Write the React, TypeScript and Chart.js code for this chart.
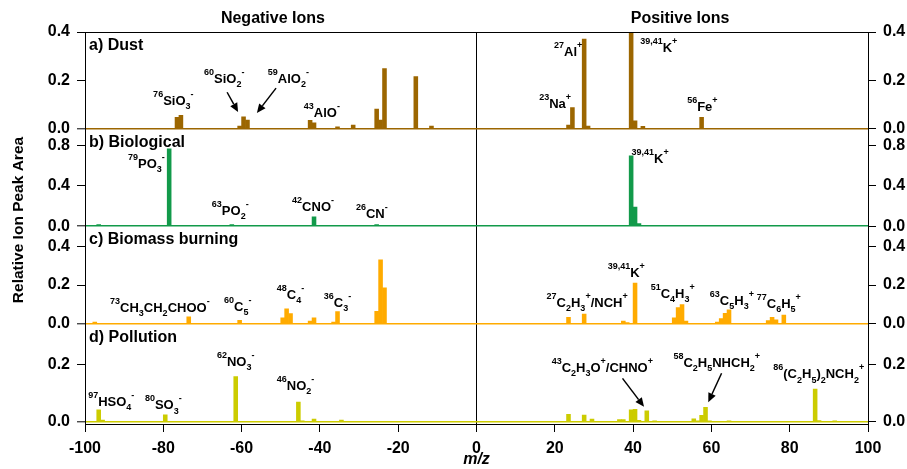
import React, { useEffect, useRef } from "react";
import { Chart, registerables } from "chart.js";
Chart.register(...registerables);

const FONT = '"Liberation Sans", Arial, Helvetica, sans-serif';

const xTicks = [-100, -80, -60, -40, -20, 0, 20, 40, 60, 80, 100];

// a) Dust  (each bar covers [m, m+1] as in the original Igor plot)
const dustMz = [-77, -76, -61, -60, -59, -43, -42, -36, -32, -26, -25, -24, -16, -12, 23, 24, 27, 28, 39, 40, 42, 57];
const dustVal = [0.047, 0.056, 0.011, 0.049, 0.036, 0.035, 0.025, 0.008, 0.015, 0.081, 0.036, 0.249, 0.216, 0.011, 0.015, 0.088, 0.371, 0.011, 0.4, 0.033, 0.01, 0.047];
const dustTicks = [0, 0.2, 0.4];

// b) Biological
const bioMz = [-97, -79, -63, -42, -26, 39, 40, 41];
const bioVal = [0.015, 0.767, 0.015, 0.092, 0.015, 0.698, 0.19, 0.026];
const bioTicks = [0, 0.4, 0.8];

// c) Biomass burning
const burnMz = [-98, -74, -61, -50, -49, -48, -43, -42, -37, -36, -26, -25, -24, 23, 27, 37, 38, 40, 50, 51, 52, 53, 61, 62, 63, 64, 74, 75, 76, 78];
const burnVal = [0.01, 0.036, 0.019, 0.031, 0.078, 0.053, 0.015, 0.031, 0.009, 0.063, 0.065, 0.33, 0.186, 0.034, 0.05, 0.015, 0.007, 0.21, 0.031, 0.084, 0.099, 0.014, 0.009, 0.027, 0.055, 0.072, 0.017, 0.034, 0.021, 0.045];
const burnTicks = [0, 0.2, 0.4];

// d) Pollution
const pollMz = [-97, -96, -80, -62, -46, -45, -42, -35, 23, 27, 29, 36, 37, 39, 40, 41, 43, 45, 55, 56, 57, 58, 59, 64, 86, 87, 91];
const pollVal = [0.041, 0.006, 0.024, 0.157, 0.068, 0.003, 0.009, 0.006, 0.026, 0.023, 0.009, 0.007, 0.007, 0.041, 0.043, 0.005, 0.038, 0.003, 0.01, 0.003, 0.022, 0.05, 0.003, 0.002, 0.114, 0.004, 0.002];
const pollTicks = [0, 0.2];

// peak labels (anchored in m/z, value coordinates of their panel)
const dustNotes = [
  { mz: -82.6, v: 0.098, t: "^{76}SiO_{3}^{-}" },
  { mz: -69.6, v: 0.189, t: "^{60}SiO_{2}^{-}" },
  { mz: -53.3, v: 0.189, t: "^{59}AlO_{2}^{-}" },
  { mz: -44.1, v: 0.048, t: "^{43}AlO^{-}" },
  { mz: 16.0, v: 0.086, t: "^{23}Na^{+}" },
  { mz: 19.8, v: 0.3, t: "^{27}Al^{+}" },
  { mz: 41.8, v: 0.317, t: "^{39,41}K^{+}" },
  { mz: 53.8, v: 0.073, t: "^{56}Fe^{+}" },
];
const dustArrows = [
  { x1: -63.7, y1: 0.151, x2: -60.9, y2: 0.069 },
  { x1: -51.2, y1: 0.168, x2: -56.1, y2: 0.065 },
];
const bioNotes = [
  { mz: -89.0, v: 0.579, t: "^{79}PO_{3}^{-}" },
  { mz: -67.6, v: 0.112, t: "^{63}PO_{2}^{-}" },
  { mz: -47.1, v: 0.152, t: "^{42}CNO^{-}" },
  { mz: -30.8, v: 0.082, t: "^{26}CN^{-}" },
  { mz: 39.6, v: 0.628, t: "^{39,41}K^{+}" },
];
const burnNotes = [
  { mz: -93.6, v: 0.062, t: "^{73}CH_{3}CH_{2}CHOO^{-}" },
  { mz: -64.5, v: 0.067, t: "^{60}C_{5}^{-}" },
  { mz: -51.0, v: 0.128, t: "^{48}C_{4}^{-}" },
  { mz: -39.0, v: 0.089, t: "^{36}C_{3}^{-}" },
  { mz: 17.9, v: 0.089, t: "^{27}C_{2}H_{3}^{+}/NCH^{+}" },
  { mz: 33.5, v: 0.243, t: "^{39,41}K^{+}" },
  { mz: 44.5, v: 0.132, t: "^{51}C_{4}H_{3}^{+}" },
  { mz: 59.6, v: 0.097, t: "^{63}C_{5}H_{3}^{+}" },
  { mz: 71.6, v: 0.084, t: "^{77}C_{6}H_{5}^{+}" },
];
const pollNotes = [
  { mz: -99.2, v: 0.055, t: "^{97}HSO_{4}^{-}" },
  { mz: -84.7, v: 0.043, t: "^{80}SO_{3}^{-}" },
  { mz: -66.3, v: 0.195, t: "^{62}NO_{3}^{-}" },
  { mz: -51.0, v: 0.11, t: "^{46}NO_{2}^{-}" },
  { mz: 19.2, v: 0.174, t: "^{43}C_{2}H_{3}O^{+}/CHNO^{+}" },
  { mz: 50.3, v: 0.192, t: "^{58}C_{2}H_{5}NHCH_{2}^{+}" },
  { mz: 75.8, v: 0.151, t: "^{86}(C_{2}H_{5})_{2}NCH_{2}^{+}" },
];
const pollArrows = [
  { x1: 37.3, y1: 0.151, x2: 42.8, y2: 0.052 },
  { x1: 62.6, y1: 0.169, x2: 59.2, y2: 0.068 },
];

const PANELS = [
  { id: "a", name: "a) Dust", color: "#9c6600", min: -0.003, max: 0.4, h: 97.5, mz: dustMz, val: dustVal, ticks: dustTicks, notes: dustNotes, arrows: dustArrows },
  { id: "b", name: "b) Biological", color: "#129a4a", min: -0.005, max: 0.96, h: 97.2, mz: bioMz, val: bioVal, ticks: bioTicks, notes: bioNotes, arrows: [] as any[] },
  { id: "c", name: "c) Biomass burning", color: "#ffab00", min: -0.004, max: 0.5, h: 98, mz: burnMz, val: burnVal, ticks: burnTicks, notes: burnNotes, arrows: [] as any[] },
  { id: "d", name: "d) Pollution", color: "#cccc00", min: -0.008, max: 0.338, h: 99.3, mz: pollMz, val: pollVal, ticks: pollTicks, notes: pollNotes, arrows: pollArrows },
];

function drawRich(ctx: CanvasRenderingContext2D, text: string, x: number, y: number, size: number) {
  const parts = text.split(/(\^\{[^}]*\}|_\{[^}]*\})/).filter((s) => s.length > 0);
  let cx = x;
  for (const part of parts) {
    let mode = "n";
    let t = part;
    if (part.startsWith("^{")) { mode = "sup"; t = part.slice(2, -1); }
    else if (part.startsWith("_{")) { mode = "sub"; t = part.slice(2, -1); }
    const fs = mode === "n" ? size : Math.round(size * 0.7);
    ctx.font = `bold ${fs}px ${FONT}`;
    const dy = mode === "sup" ? -size * 0.62 : mode === "sub" ? size * 0.32 : 0;
    ctx.fillText(t, cx, y + dy);
    cx += ctx.measureText(t).width;
  }
}

function drawArrow(ctx: CanvasRenderingContext2D, x1: number, y1: number, x2: number, y2: number) {
  const ang = Math.atan2(y2 - y1, x2 - x1);
  const L = 9, W = 4;
  const bx = x2 - L * Math.cos(ang), by = y2 - L * Math.sin(ang);
  ctx.strokeStyle = "#000";
  ctx.lineWidth = 1.5;
  ctx.beginPath();
  ctx.moveTo(x1, y1);
  ctx.lineTo(bx, by);
  ctx.stroke();
  ctx.fillStyle = "#000";
  ctx.beginPath();
  ctx.moveTo(x2, y2);
  ctx.lineTo(bx + W * Math.sin(ang), by - W * Math.cos(ang));
  ctx.lineTo(bx - W * Math.sin(ang), by + W * Math.cos(ang));
  ctx.closePath();
  ctx.fill();
}

const annotPlugin = {
  id: "annot",
  afterDraw(chart: any) {
    const ctx: CanvasRenderingContext2D = chart.ctx;
    const ca = chart.chartArea;
    const xs = chart.scales.x;
    ctx.save();
    ctx.strokeStyle = "#000";
    ctx.lineWidth = 1;
    ctx.beginPath();
    ctx.moveTo(ca.left, Math.round(ca.top) + 0.5);
    ctx.lineTo(ca.right, Math.round(ca.top) + 0.5);
    ctx.stroke();

    ctx.fillStyle = "#000";
    ctx.textBaseline = "alphabetic";
    ctx.textAlign = "center";
    ctx.font = `bold 16px ${FONT}`;
    ctx.fillText("Negative Ions", xs.getPixelForValue(-52), ca.top - 9);
    ctx.fillText("Positive Ions", xs.getPixelForValue(52), ca.top - 9);
    ctx.font = `italic bold 16px ${FONT}`;
    ctx.fillText("m/z", xs.getPixelForValue(0), 464);

    ctx.save();
    ctx.translate(23, (ca.top + ca.bottom) / 2 - 8);
    ctx.rotate(-Math.PI / 2);
    ctx.font = `bold 15.5px ${FONT}`;
    ctx.fillText("Relative Ion Peak Area", 0, 0);
    ctx.restore();

    ctx.textAlign = "left";
    for (const p of PANELS) {
      const ys = chart.scales["y" + p.id];
      ctx.fillStyle = "#000";
      ctx.font = `bold 16px ${FONT}`;
      ctx.fillText(p.name, ca.left + 4, ys.top + 17.5);
      for (const n of p.notes) {
        drawRich(ctx, n.t, xs.getPixelForValue(n.mz), ys.getPixelForValue(n.v), 13);
      }
      for (const a of p.arrows) {
        drawArrow(ctx, xs.getPixelForValue(a.x1), ys.getPixelForValue(a.y1), xs.getPixelForValue(a.x2), ys.getPixelForValue(a.y2));
      }
    }
    ctx.restore();
  },
};

export default function App() {
  const ref = useRef<HTMLCanvasElement>(null);
  useEffect(() => {
    const tickFont = { family: FONT, size: 16, weight: "bold" as const };
    const scales: any = {
      x: {
        type: "linear",
        position: "bottom",
        min: -100,
        max: 100,
        offset: false,
        afterBuildTicks: (s: any) => { s.ticks = xTicks.map((v) => ({ value: v })); },
        ticks: { font: tickFont, color: "#000", padding: 7, maxRotation: 0, autoSkip: false, callback: (v: any) => String(v) },
        grid: {
          offset: false,
          color: (c: any) => (c.tick && c.tick.value === 0 ? "#000" : "rgba(0,0,0,0)"),
          lineWidth: 1,
          tickColor: "#000",
          tickWidth: 1,
          tickLength: 8,
        },
        border: { color: "#000", width: 1 },
        afterFit: (s: any) => { s.height = 45; },
      },
    };
    PANELS.forEach((p, i) => {
      const common = {
        type: "linear",
        min: p.min,
        max: p.max,
        bounds: "data",
        stackWeight: p.h,
        afterBuildTicks: (s: any) => { s.ticks = p.ticks.map((v) => ({ value: v })); },
        ticks: { font: tickFont, color: "#000", padding: 7, autoSkip: false, callback: (v: any) => Number(v).toFixed(1) },
        border: { color: "#000", width: 1 },
      };
      scales["y" + p.id] = {
        ...common,
        position: "left",
        stack: "L",
        weight: 4 - i,
        grid: {
          color: (c: any) => (c.tick && c.tick.value === 0 ? p.color : "rgba(0,0,0,0)"),
          lineWidth: (c: any) => (c.tick && c.tick.value === 0 ? 1.6 : 1),
          tickColor: "#000",
          tickWidth: 1,
          tickLength: 8,
        },
        afterFit: (s: any) => { s.width = 85; },
      };
      scales["r" + p.id] = {
        ...common,
        position: "right",
        stack: "R",
        weight: i + 1,
        grid: { drawOnChartArea: false, color: "#000", tickColor: "#000", tickWidth: 1, tickLength: 8 },
        afterFit: (s: any) => { s.width = 39; },
      };
    });

    const chart = new Chart(ref.current as HTMLCanvasElement, {
      type: "bar",
      data: {
        datasets: PANELS.map((p) => ({
          type: "bar" as const,
          label: p.name,
          xAxisID: "x",
          yAxisID: "y" + p.id,
          data: p.mz.map((m, i) => ({ x: m + 0.5, y: p.val[i] })),
          backgroundColor: p.color,
          borderWidth: 0,
          grouped: false,
          barPercentage: 1,
          categoryPercentage: 1,
        })),
      } as any,
      options: {
        responsive: false,
        maintainAspectRatio: false,
        animation: false,
        layout: { padding: { top: 32, left: 0, right: 0, bottom: 0 } },
        plugins: { legend: { display: false }, tooltip: { enabled: false } },
        scales,
      } as any,
      plugins: [annotPlugin],
    });
    return () => chart.destroy();
  }, []);
  return (
    <div style={{ position: "fixed", left: 0, top: 0, width: 907, height: 469, background: "#fff" }}>
      <canvas ref={ref} width={907} height={469} style={{ display: "block", width: 907, height: 469 }} />
    </div>
  );
}
